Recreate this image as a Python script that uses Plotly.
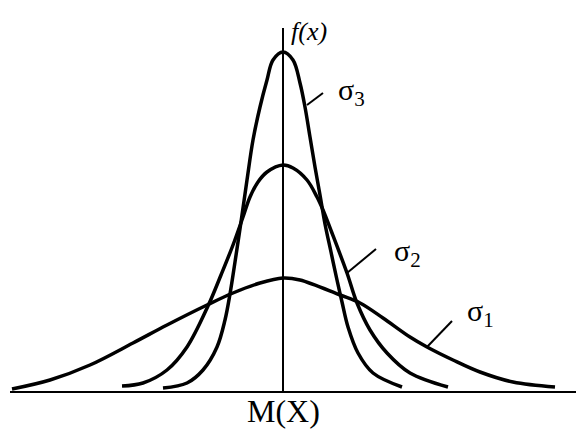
import plotly.graph_objects as go

# curves (x relative to M(X), y = f(x))
s1_x = [-2.71, -2.33, -1.93, -1.50, -1.16, -0.76, -0.50, -0.23, 0.00,
        0.17, 0.57, 0.77, 1.00, 1.27, 1.44, 1.70, 1.97, 2.30, 2.72]
s1_y = [0.03, 0.12, 0.27, 0.49, 0.67, 0.87, 0.99, 1.09, 1.14,
        1.12, 0.97, 0.89, 0.74, 0.55, 0.45, 0.32, 0.20, 0.10, 0.05]

s2_x = [-1.61, -1.40, -1.16, -0.96, -0.75, -0.62, -0.50, -0.40, -0.33, -0.25, -0.16, 0.00,
        0.10, 0.24, 0.34, 0.40, 0.49, 0.64, 0.74, 0.87, 1.04, 1.27, 1.65]
s2_y = [0.06, 0.09, 0.22, 0.45, 0.86, 1.17, 1.47, 1.75, 1.95, 2.10, 2.20, 2.27,
        2.24, 2.12, 1.95, 1.82, 1.59, 1.19, 0.89, 0.62, 0.39, 0.19, 0.05]

s3_x = [-1.20, -0.96, -0.80, -0.66, -0.58, -0.53, -0.48, -0.42, -0.36, -0.30, -0.23, -0.16, -0.10, 0.00,
        0.10, 0.17, 0.22, 0.27, 0.32, 0.37, 0.42, 0.48, 0.54, 0.59, 0.65, 0.75, 0.90, 1.19]
s3_y = [0.04, 0.09, 0.22, 0.45, 0.72, 0.98, 1.30, 1.70, 2.12, 2.52, 2.85, 3.12, 3.32, 3.40,
        3.32, 3.09, 2.85, 2.55, 2.25, 1.97, 1.68, 1.40, 1.12, 0.90, 0.65, 0.39, 0.19, 0.05]

labels = ["σ<sub>1</sub>", "σ<sub>2</sub>", "σ<sub>3</sub>"]
label_pos = [(1.82, 0.79), (1.09, 1.39), (0.53, 3.00)]
leaders = [((1.44, 0.45), (1.69, 0.71)), ((0.64, 1.19), (0.93, 1.43)), ((0.24, 2.87), (0.40, 2.99))]

fig = go.Figure()
for xs, ys in [(s1_x, s1_y), (s2_x, s2_y), (s3_x, s3_y)]:
    fig.add_trace(go.Scatter(x=xs, y=ys, mode="lines",
                             line=dict(color="black", width=3.5, shape="spline"),
                             hoverinfo="skip", showlegend=False))

# axes
fig.add_shape(type="line", x0=-2.73, x1=3.05, y0=0, y1=0, line=dict(color="black", width=2))
fig.add_shape(type="line", x0=0, x1=0, y0=0, y1=3.64, line=dict(color="black", width=2))

for (a, b) in leaders:
    fig.add_shape(type="line", x0=a[0], y0=a[1], x1=b[0], y1=b[1], line=dict(color="black", width=2))

serif = "Liberation Serif"
for txt, (lx, ly) in zip(labels, label_pos):
    fig.add_annotation(x=lx, y=ly, text=txt, showarrow=False, xanchor="left", yanchor="middle",
                       font=dict(family=serif, size=30, color="black"))

fig.add_annotation(x=0, y=-0.19, text="M(X)", showarrow=False,
                   font=dict(family=serif, size=32, color="black"))
fig.add_annotation(x=0.26, y=3.61, text="<i>f(x)</i>", showarrow=False,
                   font=dict(family=serif, size=26, color="black"))
fig.add_annotation(x=2.93, y=0.17, text="<i>x</i>", showarrow=False, xanchor="left",
                   font=dict(family=serif, size=26, color="black"))

# page body has an 8px margin, so the figure is 8px smaller and ranges start there
fig.update_xaxes(range=[-2.75, 3.01], visible=False)
fig.update_yaxes(range=[-0.37, 3.84], visible=False)
fig.update_layout(width=576, height=421, margin=dict(l=0, r=0, t=0, b=0),
                  plot_bgcolor="white", paper_bgcolor="white")

fig.write_html("out.html")
